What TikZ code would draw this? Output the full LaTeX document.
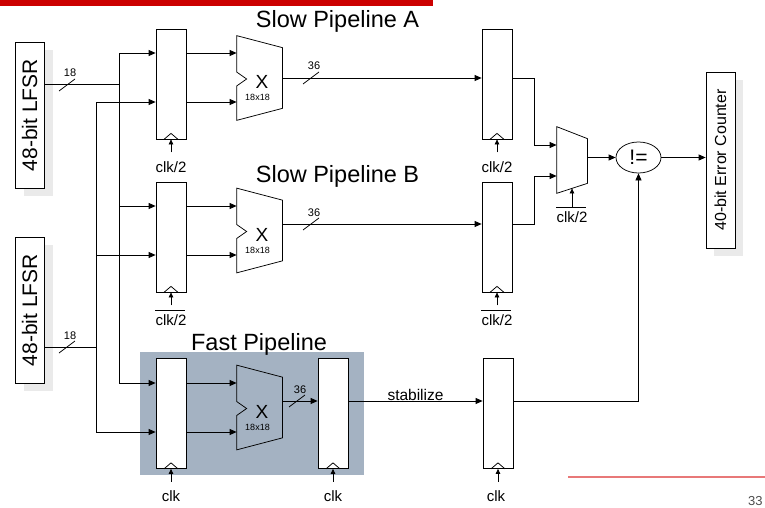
\documentclass[tikz,border=0pt]{standalone}
\usepackage{graphicx}
\usepackage{fontspec}
\setmainfont{Liberation Sans}
\usetikzlibrary{shapes.geometric, arrows.meta, positioning, calc, fit, backgrounds}

\definecolor{slidered}{RGB}{204,0,0}
\definecolor{rulered}{RGB}{232,120,120}
\definecolor{fastgray}{RGB}{164,178,194}
\definecolor{shadowgray}{RGB}{234,234,234}

\begin{document}
\begin{tikzpicture}[x=1pt, y=-1pt, line width=0.75pt,
    reg/.style={rectangle, draw, fill=white, minimum width=30pt, minimum height=110pt, inner sep=0pt},
    mult/.style={rectangle, minimum width=45pt, minimum height=84pt, inner sep=0pt},
    block/.style={rectangle, draw, fill=white, inner sep=0pt},
    title/.style={font=\fontsize{23.5}{24}\selectfont, inner sep=0pt, anchor=base},
    clklabel/.style={font=\fontsize{15}{15}\selectfont, inner sep=0pt},
    buslabel/.style={font=\fontsize{11}{11}\selectfont, inner sep=0pt, anchor=base east},
    arrow/.style={-{Triangle[length=7pt, width=6pt]}},
    clkarrow/.style={-{Triangle[length=5pt, width=4.5pt]}},
    dropshade/.style={fill=shadowgray}
]
\useasboundingbox (0,0) rectangle (765,508);

% slide decoration
\fill[slidered] (0,0) rectangle (433,6);
\draw[rulered, line width=1.2pt] (568,477) -- (765,477);
\node[anchor=base east, inner sep=0pt, font=\fontsize{13}{13}\selectfont, text=black!70] (pg) at (763,505) {33};

% sources and sink
\node[block, minimum width=29pt, minimum height=146pt, font=\fontsize{21}{21}\selectfont] (l1) at (29.5,115) {\rotatebox{90}{48-bit LFSR}};
\node[block, minimum width=29pt, minimum height=146pt, font=\fontsize{21}{21}\selectfont] (l2) at (29.5,310) {\rotatebox{90}{48-bit LFSR}};
\node[block, minimum width=29pt, minimum height=176pt, font=\fontsize{16}{16}\selectfont] (cnt) at (720.5,160) {\rotatebox{90}{40-bit Error Counter}};

% titles
\node[title] (ta) at (337.5,28) {Slow Pipeline A};
\node[title] (tb) at (337.5,182) {Slow Pipeline B};
\node[title] (tf) at (259,350) {Fast Pipeline};

% registers
\node[reg] (ra1) at (171,84) {};
\node[reg] (ra2) at (497,84) {};
\node[reg] (rb1) at (171,237) {};
\node[reg] (rb2) at (497,237) {};
\node[reg] (rf1) at (171,413.5) {};
\node[reg] (rf2) at (333,413.5) {};
\node[reg] (rs) at (498,413.5) {};

% multipliers
\node[mult] (ma) at (259.5,78) {};
\node[mult] (mb) at (259.5,230.5) {};
\node[mult] (mf) at (259.5,407.5) {};
\foreach \m in {ma,mb,mf} {
  \draw (\m.north west) -- ([yshift=-12pt]\m.north east) -- ([yshift=12pt]\m.south east) -- (\m.south west)
     -- ([yshift=-8pt]\m.west) -- ([shift={(10pt,-1pt)}]\m.west) -- ([yshift=6pt]\m.west) -- cycle;
  \node[font=\fontsize{19}{19}\selectfont, inner sep=0pt, anchor=base] (\m-x) at ([shift={(2.5pt,-11pt)}]\m.center) {X};
  \node[font=\fontsize{9}{9}\selectfont, inner sep=0pt, anchor=base] (\m-size) at ([shift={(-2pt,-23pt)}]\m.center) {18x18};
}

% mux and compare
\node[mult, minimum width=30pt, minimum height=66pt] (mx) at (572,160) {};
\draw (mx.north west) -- ([yshift=-12pt]mx.north east) -- ([yshift=10pt]mx.south east) -- (mx.south west) -- cycle;
\node[ellipse, draw, minimum width=45pt, minimum height=31pt, inner sep=0pt, font=\fontsize{21}{21}\selectfont] (neq) at (638.5,157.5) {!=};

% row levels
\coordinate (ya1) at (0,53);
\coordinate (ya2) at (0,102);
\coordinate (yao) at (0,78);
\coordinate (yb1) at (0,206);
\coordinate (yb2) at (0,255);
\coordinate (ybo) at (0,224);
\coordinate (yf1) at (0,383);
\coordinate (yf2) at (0,432);
\coordinate (yfo) at (0,401);

% operand buses
\coordinate (j1) at (119,84);
\coordinate (j2) at (96,347);
\draw (l1.east |- j1) -- (j1);
\draw (l2.east |- j2) -- (j2);
\foreach \r/\y in {ra1/ya1, rb1/yb1, rf1/yf1}
  \draw[arrow] (j1) |- (\r.west |- \y);
\foreach \r/\y in {ra1/ya2, rb1/yb2, rf1/yf2}
  \draw[arrow] (j2) |- (\r.west |- \y);

\foreach \r/\m/\y in {ra1/ma/ya1, ra1/ma/ya2, rb1/mb/yb1, rb1/mb/yb2, rf1/mf/yf1, rf1/mf/yf2}
  \draw[arrow] (\r.east |- \y) -- (\m.west |- \y);

\draw[arrow] (ma.east |- yao) -- (ra2.west |- yao);
\draw[arrow] (mb.east |- ybo) -- (rb2.west |- ybo);
\draw[arrow] (mf.east |- yfo) -- (rf2.west |- yfo);

% bus widths
\foreach \x/\y/\w in {67/85/18, 67/347/18, 311/78/36, 311/224/36, 297/401/36}
  \draw (\x-8,\y+6) -- (\x+8,\y-6) node[buslabel, xshift=1.5pt, yshift=2pt] {\w};

% checking stage
\coordinate (mc) at ($(ra2.east)!0.5!(mx.west)$);
\coordinate (mi1) at ([yshift=15pt]mx.west);
\coordinate (mi2) at ([yshift=-16pt]mx.west);
\draw[arrow] (ra2.east |- yao) -| (mc |- mi1) -- (mi1);
\draw[arrow] (rb2.east |- ybo) -| (mc |- mi2) -- (mi2);
\draw[arrow] (mx.east |- neq.west) -- (neq.west);
\draw[arrow] (neq.east) -- (cnt.west |- neq.east);
\draw[arrow] (rf2.east |- yfo) -- (rs.west |- yfo)
  node[midway, anchor=base, inner sep=0pt, yshift=1pt, font=\fontsize{15.5}{15.5}\selectfont] (stab) {stabilize};
\draw[arrow] (rs.east |- yfo) -| (neq.south);

% clocks
\foreach \r in {ra1,ra2,rb1,rb2,rf1,rf2,rs} {
  \draw ([xshift=-7pt]\r.south) -- ([yshift=6pt]\r.south) -- ([xshift=7pt]\r.south);
  \draw[clkarrow] ([yshift=-13pt]\r.south) -- (\r.south);
}
\draw[clkarrow] ([yshift=-14pt]mx.south) -- ([yshift=5pt]mx.south);

\node[clklabel, below=33pt of ra1, anchor=base] (ka1) {clk/2};
\node[clklabel, below=33pt of ra2, anchor=base] (ka2) {clk/2};
\node[clklabel, below=33pt of rb1, anchor=base] (kb1) {clk/2};
\node[clklabel, below=33pt of rb2, anchor=base] (kb2) {clk/2};
\node[clklabel, below=29pt of mx, anchor=base] (kx) {clk/2};
\node[clklabel, below=33pt of rf1, anchor=base] (kf1) {clk};
\node[clklabel, below=33pt of rf2, anchor=base] (kf2) {clk};
\node[clklabel, below=33pt of rs, anchor=base, xshift=-2pt] (ks) {clk};
% inverted clocks
\foreach \k in {kb1,kb2,kx}
  \draw ([yshift=4pt]\k.north west) -- ([shift={(-2pt,4pt)}]\k.north east);

% backdrops
\begin{scope}[on background layer]
  \node[fit=(rf1)(rf2), inner xsep=15.5pt, inner ysep=6pt, fill=fastgray] (fbox) {};
  \fill[dropshade] ([shift={(9pt,-8pt)}]l1.north west) rectangle ([shift={(9pt,-8pt)}]l1.south east);
  \fill[dropshade] ([shift={(9pt,-8pt)}]l2.north west) rectangle ([shift={(9pt,-8pt)}]l2.south east);
  \fill[dropshade] ([shift={(8pt,-8pt)}]cnt.north west) rectangle ([shift={(8pt,-8pt)}]cnt.south east);
\end{scope}
\end{tikzpicture}
\end{document}
